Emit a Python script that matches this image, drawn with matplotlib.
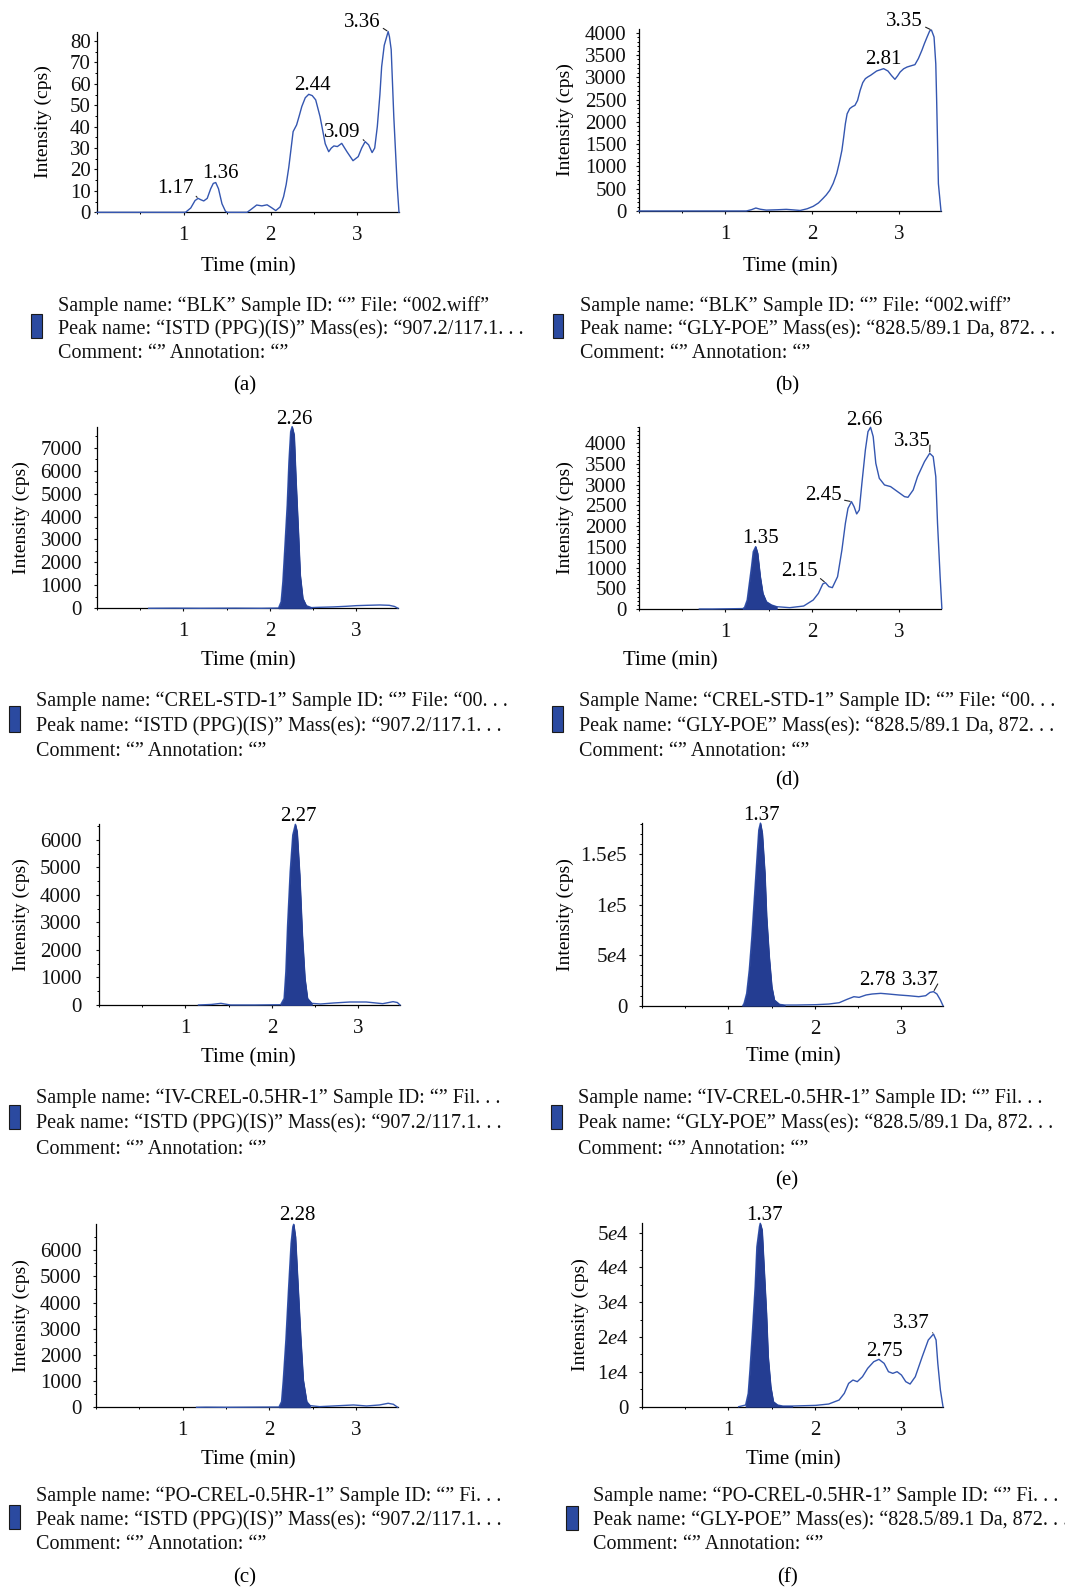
import numpy as np
import matplotlib
matplotlib.use("Agg")
import matplotlib.pyplot as plt
from matplotlib.patches import Rectangle
from matplotlib.ticker import MultipleLocator, FixedLocator, FixedFormatter

plt.rcParams['font.family'] = ['Liberation Serif', 'DejaVu Serif']
plt.rcParams['mathtext.fontset'] = 'custom'
plt.rcParams['mathtext.rm'] = 'Liberation Serif'
plt.rcParams['mathtext.it'] = 'Liberation Serif:italic'

# ---------------- data ----------------
# (a) BLK, ISTD
a_time = [0, 1.02, 1.08, 1.13, 1.165, 1.20, 1.23, 1.27, 1.31, 1.34, 1.368, 1.40, 1.44, 1.48, 1.50,
          1.73, 1.78, 1.84, 1.90, 1.96, 2.01, 2.06, 2.11, 2.15, 2.18, 2.21, 2.24, 2.26, 2.30, 2.33,
          2.36, 2.40, 2.44, 2.48, 2.52, 2.57, 2.63, 2.67, 2.70, 2.73, 2.77, 2.82, 2.88, 2.95, 3.01,
          3.05, 3.09, 3.13, 3.17, 3.20, 3.23, 3.26, 3.28, 3.31, 3.355, 3.37, 3.39, 3.42, 3.46, 3.48]
a_int = [0, 0, 2, 5.5, 6.5, 5.8, 5.3, 6.5, 11, 13.5, 13.9, 11, 4, 0.5, 0,
         0, 1.5, 3.4, 3.0, 3.5, 2.2, 0.8, 2.5, 7.3, 13, 21, 31, 37.7, 40.8, 45,
         49.4, 53.5, 55.1, 54.5, 52.5, 44.7, 32, 28.3, 30, 31, 30.7, 32.2, 28.3, 24.1, 26,
         30, 33, 31.5, 27.9, 30, 40, 55, 68, 78, 84.4, 82, 76, 44.7, 12, 0]

# (b) BLK, GLY-POE
b_time = [0, 1.24, 1.30, 1.35, 1.40, 1.47, 1.60, 1.70, 1.78, 1.86, 1.94, 2.01, 2.07, 2.12, 2.16,
          2.20, 2.24, 2.28, 2.31, 2.34, 2.36, 2.38, 2.40, 2.43, 2.46, 2.49, 2.52, 2.55, 2.58, 2.61,
          2.64, 2.67, 2.74, 2.82, 2.87, 2.91, 2.95, 2.98, 3.01, 3.05, 3.09, 3.14, 3.18, 3.22, 3.26,
          3.29, 3.32, 3.35, 3.37, 3.40, 3.42, 3.43, 3.45, 3.48]
b_int = [0, 0, 30, 67, 40, 20, 28, 37, 25, 12, 50, 105, 180, 277, 360,
         464, 620, 838, 1080, 1361, 1650, 1960, 2180, 2296, 2340, 2370, 2480, 2707, 2880, 2969,
         3010, 3044, 3141, 3193, 3140, 3040, 2954, 3030, 3118, 3190, 3230, 3260, 3283, 3420, 3604,
         3760, 3903, 4040, 4060, 3903, 3300, 2483, 613, 0]

# CREL-STD-1, ISTD
std_istd_time = [0.60, 0.90, 1.20, 1.60, 1.90, 2.10, 2.13, 2.15, 2.17, 2.20, 2.22, 2.24, 2.257, 2.28,
                 2.30, 2.33, 2.35, 2.38, 2.42, 2.48, 2.54, 2.73, 2.88, 3.00, 3.12, 3.27, 3.38, 3.44, 3.48]
std_istd_int = [0, 5, 0, 5, 0, 10, 290, 1160, 2470, 4500, 6390, 7700, 7920, 7555,
                5670, 3200, 1450, 435, 116, 30, 40, 60, 87, 116, 130, 145, 130, 80, 0]

# (d) CREL-STD-1, GLY-POE
d_time = [0.70, 0.85, 1.20, 1.22, 1.25, 1.27, 1.30, 1.32, 1.348, 1.37, 1.40, 1.43, 1.47, 1.53, 1.59,
          1.74, 1.90, 2.01, 2.07, 2.12, 2.15, 2.19, 2.23, 2.29, 2.34, 2.38, 2.41, 2.45, 2.48, 2.51,
          2.54, 2.57, 2.61, 2.64, 2.67, 2.70, 2.73, 2.77, 2.83, 2.90, 2.98, 3.06, 3.10, 3.16, 3.21,
          3.29, 3.35, 3.39, 3.42, 3.44, 3.47, 3.49]
d_int = [0, 0, 10, 40, 217, 540, 1022, 1384, 1505, 1344, 780, 378, 177, 97, 56,
         32, 72, 217, 378, 604, 636, 540, 515, 780, 1424, 2068, 2430, 2591, 2470, 2294,
         2390, 3034, 3839, 4281, 4386, 4161, 3517, 3155, 2994, 2954, 2833, 2712, 2696, 2873, 3195,
         3557, 3758, 3678, 3195, 2068, 780, 16]

# IV-CREL-0.5HR-1, ISTD
iv_istd_time = [1.15, 1.30, 1.41, 1.52, 1.80, 2.10, 2.14, 2.16, 2.18, 2.21, 2.24, 2.27, 2.29, 2.32,
                2.35, 2.38, 2.41, 2.46, 2.56, 2.71, 2.90, 3.09, 3.28, 3.40, 3.45, 3.48]
iv_istd_int = [0, 20, 60, 0, 0, 10, 240, 1210, 2900, 4850, 6180, 6570, 6300, 4730,
               2550, 970, 240, 60, 36, 73, 109, 109, 48, 121, 90, 0]

# (e) IV-CREL-0.5HR-1, GLY-POE
e_time = [1.165, 1.18, 1.21, 1.24, 1.27, 1.30, 1.33, 1.35, 1.369, 1.39, 1.42, 1.44, 1.47, 1.50, 1.53,
          1.59, 1.65, 1.78, 2.01, 2.16, 2.28, 2.37, 2.45, 2.51, 2.59, 2.66, 2.76, 2.85, 2.97, 3.08,
          3.20, 3.28, 3.33, 3.37, 3.41, 3.45, 3.48]
e_int = [0, 2300, 12200, 35400, 68400, 108000, 147700, 174000, 180800, 170900, 131200, 88200, 48600, 18800, 5600,
         1300, 660, 660, 1000, 1650, 2970, 6280, 8920, 8260, 10600, 11570, 12230, 11570, 10600, 9900,
         8920, 9900, 13200, 13900, 11570, 5600, 0]

# (c) PO-CREL-0.5HR-1, ISTD
po_istd_time = [1.16, 1.27, 1.50, 2.11, 2.14, 2.16, 2.19, 2.22, 2.25, 2.27, 2.28, 2.30, 2.33, 2.36,
                2.39, 2.43, 2.47, 2.58, 2.74, 2.97, 3.12, 3.27, 3.37, 3.43, 3.48]
po_istd_int = [0, 5, 0, 10, 216, 1040, 2570, 4480, 6260, 6890, 6985, 6510, 4600, 2700,
               1040, 216, 64, 25, 51, 89, 51, 89, 153, 115, 0]

# (f) PO-CREL-0.5HR-1, GLY-POE
f_time = [1.12, 1.20, 1.23, 1.25, 1.28, 1.31, 1.33, 1.36, 1.369, 1.39, 1.41, 1.44, 1.46, 1.49, 1.52,
          1.57, 1.63, 1.74, 2.01, 2.16, 2.28, 2.34, 2.39, 2.44, 2.49, 2.55, 2.61, 2.68, 2.74, 2.80,
          2.85, 2.90, 2.95, 3.00, 3.05, 3.10, 3.16, 3.24, 3.31, 3.37, 3.40, 3.42, 3.45, 3.48]
f_int = [0, 480, 3830, 10540, 22030, 34490, 45980, 51730, 52700, 50770, 41190, 26820, 14370, 5750, 1440,
         480, 190, 190, 380, 770, 1920, 3830, 6700, 7660, 7190, 8620, 11020, 12930, 13600, 12450,
         10060, 9580, 10060, 9100, 7190, 6510, 8620, 14370, 19160, 20880, 19160, 12450, 4790, 0]

# integration (filled) windows, min
std_istd_fill = (2.10, 2.48)
d_fill = (1.20, 1.59)
iv_istd_fill = (2.10, 2.46)
e_fill = (1.165, 1.65)
po_istd_fill = (2.11, 2.47)
f_fill = (1.20, 1.74)

# peak labels
a_peaks = ["1.17", "1.36", "2.44", "3.09", "3.36"]
b_peaks = ["2.81", "3.35"]
std_istd_peaks = ["2.26"]
d_peaks = ["1.35", "2.15", "2.45", "2.66", "3.35"]
iv_istd_peaks = ["2.27"]
e_peaks = ["1.37", "2.78", "3.37"]
po_istd_peaks = ["2.28"]
f_peaks = ["1.37", "2.75", "3.37"]

x_ticks = [1, 2, 3]
e_yticks = [0, 50000, 100000, 150000]
e_yticklabels = ["0", r"5$\mathit{e}$4", r"1$\mathit{e}$5", r"1.5$\mathit{e}$5"]
f_yticks = [0, 10000, 20000, 30000, 40000, 50000]
f_yticklabels = ["0", r"1$\mathit{e}$4", r"2$\mathit{e}$4", r"3$\mathit{e}$4", r"4$\mathit{e}$4", r"5$\mathit{e}$4"]

istd_peak = "Peak name: \u201cISTD (PPG)(IS)\u201d Mass(es): \u201c907.2/117.1. . ."
gly_peak = "Peak name: \u201cGLY-POE\u201d Mass(es): \u201c828.5/89.1 Da, 872. . ."
comment = "Comment: \u201c\u201d Annotation: \u201c\u201d"
info_a = ["Sample name: \u201cBLK\u201d Sample ID: \u201c\u201d File: \u201c002.wiff\u201d", istd_peak, comment]
info_b = ["Sample name: \u201cBLK\u201d Sample ID: \u201c\u201d File: \u201c002.wiff\u201d", gly_peak, comment]
info_std_istd = ["Sample name: \u201cCREL-STD-1\u201d Sample ID: \u201c\u201d File: \u201c00. . .", istd_peak, comment]
info_d = ["Sample Name: \u201cCREL-STD-1\u201d Sample ID: \u201c\u201d File: \u201c00. . .", gly_peak, comment]
info_iv_istd = ["Sample name: \u201cIV-CREL-0.5HR-1\u201d Sample ID: \u201c\u201d Fil. . .", istd_peak, comment]
info_e = ["Sample name: \u201cIV-CREL-0.5HR-1\u201d Sample ID: \u201c\u201d Fil. . .", gly_peak, comment]
info_po_istd = ["Sample name: \u201cPO-CREL-0.5HR-1\u201d Sample ID: \u201c\u201d Fi. . .", istd_peak, comment]
info_f = ["Sample name: \u201cPO-CREL-0.5HR-1\u201d Sample ID: \u201c\u201d Fi. . .", gly_peak, comment]

# ---------------- drawing ----------------
W, H = 1065, 1589
fig = plt.figure(figsize=(W / 100, H / 100), dpi=100)
LINE = '#3456b0'
FILL = '#243d92'
FS = 15


def fx(px):
    return px / W


def fy(py):
    return 1 - py / H


def panel(box, t, v, ymax, major, minor, ypad, peaks, offsets, fill=None,
          yticks=None, yticklabels=None):
    left, right, top, bottom = box
    ax = fig.add_axes([fx(left), fy(bottom), (right - left) / W, (bottom - top) / H])
    t = np.asarray(t, float)
    v = np.asarray(v, float)
    ax.plot(t, v, color=LINE, lw=1.0, clip_on=False, zorder=3, solid_joinstyle='round')
    if fill is not None:
        m = (t >= fill[0]) & (t <= fill[1])
        ax.fill_between(t[m], 0, v[m], color=FILL, lw=0.6, clip_on=False, zorder=4)
    ax.set_xlim(0, 3.48)
    ax.set_ylim(0, ymax)
    for s in ('top', 'right'):
        ax.spines[s].set_visible(False)
    for s in ('left', 'bottom'):
        ax.spines[s].set_linewidth(0.9)
        ax.spines[s].set_zorder(2)
    ax.xaxis.set_major_locator(FixedLocator(x_ticks))
    ax.xaxis.set_minor_locator(MultipleLocator(0.5))
    if yticks is not None:
        ax.yaxis.set_major_locator(FixedLocator(yticks))
        ax.yaxis.set_major_formatter(FixedFormatter(yticklabels))
    else:
        ax.yaxis.set_major_locator(MultipleLocator(major))
    ax.yaxis.set_minor_locator(MultipleLocator(minor))
    ax.tick_params(axis='both', which='major', direction='out', length=2.5, width=0.8,
                   labelsize=FS, colors='#111111')
    ax.tick_params(axis='both', which='minor', direction='out', length=1.6, width=0.7)
    ax.tick_params(axis='x', which='major', pad=7.5)
    ax.tick_params(axis='y', which='major', pad=ypad)
    for lab, (dx, dy, leader) in zip(peaks, offsets):
        tp = float(lab)
        m = np.abs(t - tp) <= 0.06
        idx = np.where(m)[0][np.argmax(v[m])]
        if leader:
            ann = ax.annotate(lab, xy=(t[idx], v[idx]), xytext=(dx, dy), textcoords='offset pixels',
                              ha='center', va='center', fontsize=FS, annotation_clip=False,
                              arrowprops=dict(arrowstyle='-', lw=0.8, color='#222222',
                                              shrinkA=0, shrinkB=1, relpos=(0.97, 0.3)))
            ann.arrow_patch.set_clip_on(False)
        else:
            ax.annotate(lab, xy=(t[idx], v[idx]), xytext=(dx, dy), textcoords='offset pixels',
                        ha='center', va='center', fontsize=FS, annotation_clip=False)
    return ax


panel((97, 399, 32, 212.3), a_time, a_int, 84.2, 10, 5, 2,
      a_peaks, [(-23, 10, True), (5, 9, False), (4, 8.5, False), (-23, 9.5, True), (-26, 9.5, True)])
panel((638.5, 941, 29.3, 211), b_time, b_int, 4076, 500, 100, 6,
      b_peaks, [(0, 9, False), (-27, 8.5, True)])
panel((96.7, 398, 426.7, 608.3), std_istd_time, std_istd_int, 7916, 1000, 500, 8,
      std_istd_peaks, [(2, 7, False)], fill=std_istd_fill)
panel((638.5, 941, 426.7, 609), d_time, d_int, 4400, 500, 100, 6,
      d_peaks, [(5, 8.5, False), (-26, 11, True), (-28, 6, True), (-6, 7, False), (-17, 12, True)],
      fill=d_fill)
panel((99, 400, 824.3, 1005), iv_istd_time, iv_istd_int, 6570, 1000, 500, 10,
      iv_istd_peaks, [(3.5, 7.5, False)], fill=iv_istd_fill)
panel((642, 943, 823.3, 1005.7), e_time, e_int, 180600, None, 10000, 8,
      e_peaks, [(1.5, 8, False), (-3, 12.5, False), (-13, 11.5, True)], fill=e_fill,
      yticks=e_yticks, yticklabels=e_yticklabels)
panel((96, 397.7, 1224.3, 1407.3), po_istd_time, po_istd_int, 6985, 1000, 500, 8,
      po_istd_peaks, [(4, 8.3, False)], fill=po_istd_fill)
panel((641.7, 943, 1223.3, 1406.7), f_time, f_int, 52700, None, 5000, 7,
      f_peaks, [(4, 8.3, False), (5.5, 7.7, False), (-22, 11, True)], fill=f_fill,
      yticks=f_yticks, yticklabels=f_yticklabels)

# axis titles
ylab = [(43, 122), (565, 120), (21.7, 517.5), (565, 518), (21.7, 915), (565, 915), (21.7, 1316), (580, 1315)]
for x, y in ylab:
    fig.text(fx(x), fy(y), "Intensity (cps)", rotation=90, ha='center', va='center', fontsize=14)
xlab = [(248, 266.5), (790.5, 266.5), (248, 661), (670, 661), (248.5, 1058), (793, 1057), (248, 1460), (793, 1460)]
for x, y in xlab:
    fig.text(fx(x), fy(y), "Time (min)", ha='center', va='center', fontsize=FS)

# sample info blocks
blocks = [
    (info_a, 57.8, (306, 330.3, 353.6), (31.4, 41.5, 314, 337.5)),
    (info_b, 579.6, (306, 330.3, 353.6), (553, 563.4, 314, 337.5)),
    (info_std_istd, 35.5, (701.2, 726.5, 751.9), (9, 20, 706, 731.6)),
    (info_d, 578.6, (701.2, 726.5, 751.9), (552, 563, 706, 731.6)),
    (info_iv_istd, 36.5, (1098.4, 1123.7, 1149), (9, 20, 1104.5, 1128.8)),
    (info_e, 577.6, (1098.4, 1123.7, 1149), (551, 562, 1104.5, 1128.8)),
    (info_po_istd, 35.5, (1496.7, 1521, 1544.3), (9, 20, 1505, 1529)),
    (info_f, 592.8, (1496.7, 1521, 1544.3), (566, 577.6, 1505.8, 1530)),
]
for lines, x0, ys, (rx0, rx1, ry0, ry1) in blocks:
    for line, y in zip(lines, ys):
        fig.text(fx(x0), fy(y), line, ha='left', va='center', fontsize=14.5, color='#111111')
    fig.add_artist(Rectangle((fx(rx0), fy(ry1)), (rx1 - rx0) / W, (ry1 - ry0) / H,
                             transform=fig.transFigure, facecolor='#2b4aa0',
                             edgecolor='#1a1a1a', lw=0.8))

# sub-figure letters
letters = [("(a)", 245, 386), ("(b)", 787, 386), ("(d)", 787, 781), ("(e)", 787, 1180.5),
           ("(c)", 245, 1577.7), ("(f)", 787, 1577.7)]
for s, x, y in letters:
    fig.text(fx(x), fy(y), s, ha='center', va='center', fontsize=15)

fig.savefig("out.png", dpi=100)
